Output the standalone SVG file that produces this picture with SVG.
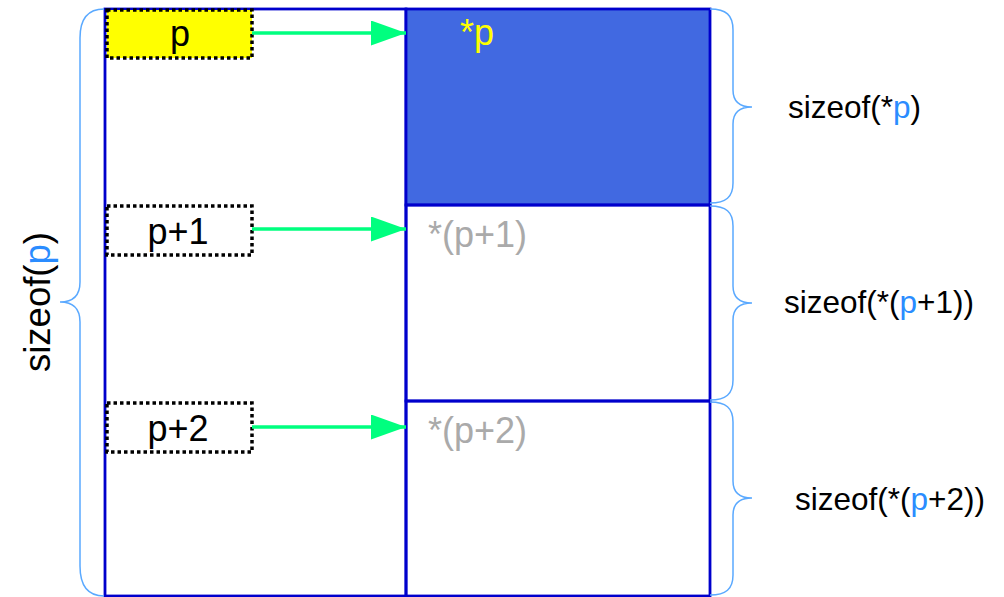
<svg xmlns="http://www.w3.org/2000/svg" width="1004" height="597" viewBox="0 0 1004 597">
<style>
  text { font-family: "Liberation Sans", Arial, sans-serif; }
  .col { fill: #ffffff; stroke: #0000cc; stroke-width: 2.8; }
  .cell { fill: none; stroke: #0000cc; stroke-width: 2.8; }
  .ptr { stroke: #000000; stroke-width: 3.5; stroke-dasharray: 3.5 3; }
  .ptrtxt { font-size: 36px; fill: #000000; text-anchor: middle; }
  .deref { font-size: 36px; fill: #aaaaaa; }
  .brace { fill: none; stroke: #5aa9ff; stroke-width: 1.5; }
  .lbl { font-size: 31.5px; fill: #000000; }
  .hl { fill: #2a8cff; }
  .conn { stroke: #00ff7f; stroke-width: 3.5; fill: none; }
</style>
<defs>
  <marker id="ah" markerUnits="userSpaceOnUse" markerWidth="36" markerHeight="26" refX="35" refY="12.5" orient="auto">
    <path d="M0,0 L35,12.5 L0,25 Z" fill="#00ff7f"/>
  </marker>
</defs>
<rect width="1004" height="597" fill="#ffffff"/>

<g id="pointer-column">
  <rect class="col" x="105" y="9" width="301" height="587"/>
</g>

<g id="cell-0">
  <rect x="406" y="9" width="304" height="196" fill="#4169e1" stroke="#0000cc" stroke-width="2.8"/>
  <text x="460" y="45" font-size="36" fill="#ffff00">*p</text>
</g>
<g id="cell-1">
  <rect class="cell" x="406" y="205" width="304" height="196"/>
  <text class="deref" x="428" y="247">*(p+1)</text>
</g>
<g id="cell-2">
  <rect class="cell" x="406" y="401" width="304" height="195"/>
  <text class="deref" x="428" y="443">*(p+2)</text>
</g>

<g id="ptr-p">
  <rect class="ptr" x="107" y="10" width="145" height="48" fill="#ffff00"/>
  <text class="ptrtxt" x="180" y="46">p</text>
</g>
<g id="ptr-p1">
  <rect class="ptr" x="107" y="206" width="145" height="49" fill="#ffffff"/>
  <text class="ptrtxt" x="178" y="244">p+1</text>
</g>
<g id="ptr-p2">
  <rect class="ptr" x="107" y="403" width="145" height="49" fill="#ffffff"/>
  <text class="ptrtxt" x="178" y="441">p+2</text>
</g>

<g id="connectors">
  <line class="conn" x1="252" y1="33" x2="406" y2="33" marker-end="url(#ah)"/>
  <line class="conn" x1="252" y1="229" x2="406" y2="229" marker-end="url(#ah)"/>
  <line class="conn" x1="252" y1="427" x2="406" y2="427" marker-end="url(#ah)"/>
</g>

<g id="brace-left">
  <path class="brace" d="M104,9 C88,9 80,18 80,38 L80,282 C80,296 72,302 60,302 C72,302 80,308 80,322 L80,566 C80,586 88,596 104,596"/>
  <text font-size="36.5" transform="translate(50,302) rotate(-90)" text-anchor="middle">sizeof(<tspan class="hl">p</tspan>)</text>
</g>

<g id="brace-0">
  <path class="brace" d="M710,9 C726,9 733,15 733,30 L733,90 C733,102 740,107 752,107 C740,107 733,112 733,124 L733,183 C733,197 726,203 710,203"/>
  <text class="lbl" x="788" y="118">sizeof(*<tspan class="hl">p</tspan>)</text>
</g>
<g id="brace-1">
  <path class="brace" d="M710,206 C726,206 733,212 733,226 L733,286 C733,298 740,303 752,303 C740,303 733,308 733,320 L733,380 C733,394 726,400 710,400"/>
  <text class="lbl" x="784" y="313">sizeof(*(<tspan class="hl">p</tspan>+1))</text>
</g>
<g id="brace-2">
  <path class="brace" d="M710,402 C726,402 733,408 733,422 L733,481 C733,493 740,498 752,498 C740,498 733,503 733,515 L733,575 C733,589 726,595 710,595"/>
  <text class="lbl" x="795" y="510">sizeof(*(<tspan class="hl">p</tspan>+2))</text>
</g>
</svg>
